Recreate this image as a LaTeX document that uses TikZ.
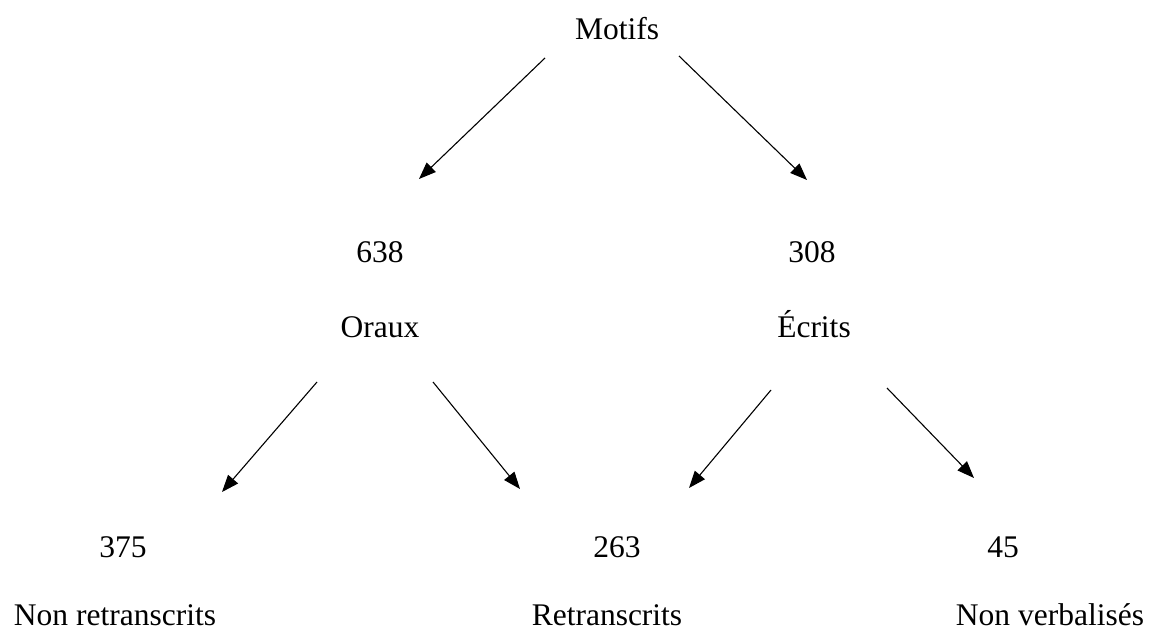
\documentclass[tikz,border=0pt]{standalone}
\usepackage{fontspec}
\setmainfont{Liberation Serif}
\usetikzlibrary{arrows.meta,positioning}

\begin{document}
\begin{tikzpicture}[x=1pt,y=-1pt,
  txt/.style={inner sep=0pt, anchor=base, font=\fontsize{31.5}{38}\selectfont},
  arr/.style={-{Triangle[length=17pt,width=13pt]}, line width=1.1pt},
]
\useasboundingbox (0,0) rectangle (1149,631);

\node[txt] (motifs) at (617,40) {Motifs};

\node[txt] (n638) at (380,263) {638};
\node[txt] (n308) at (812,263) {308};
\node[txt] (oraux) at (380,337) {Oraux};
\node[txt] (ecrits) at (814,337) {Écrits};

\node[txt] (n375) at (123,557) {375};
\node[txt] (n263) at (617,557) {263};
\node[txt] (n45) at (1003,557) {45};
\node[txt] (nonretr) at (115,625) {Non retranscrits};
\node[txt] (retr) at (607,625) {Retranscrits};
\node[txt] (nonverb) at (1050,625) {Non verbalisés};

\draw[arr] ([shift={(-72,18)}]motifs.base) -- ([shift={(39,-84)}]n638.base);
\draw[arr] ([shift={(62,16)}]motifs.base) -- ([shift={(-5,-83)}]n308.base);

\draw[arr] ([shift={(-63,45)}]oraux.base) -- ([shift={(99,-65)}]n375.base);
\draw[arr] ([shift={(53,45)}]oraux.base) -- ([shift={(-97,-68)}]n263.base);
\draw[arr] ([shift={(-43,53)}]ecrits.base) -- ([shift={(72,-69)}]n263.base);
\draw[arr] ([shift={(73,51)}]ecrits.base) -- ([shift={(-29,-79)}]n45.base);

\end{tikzpicture}
\end{document}
